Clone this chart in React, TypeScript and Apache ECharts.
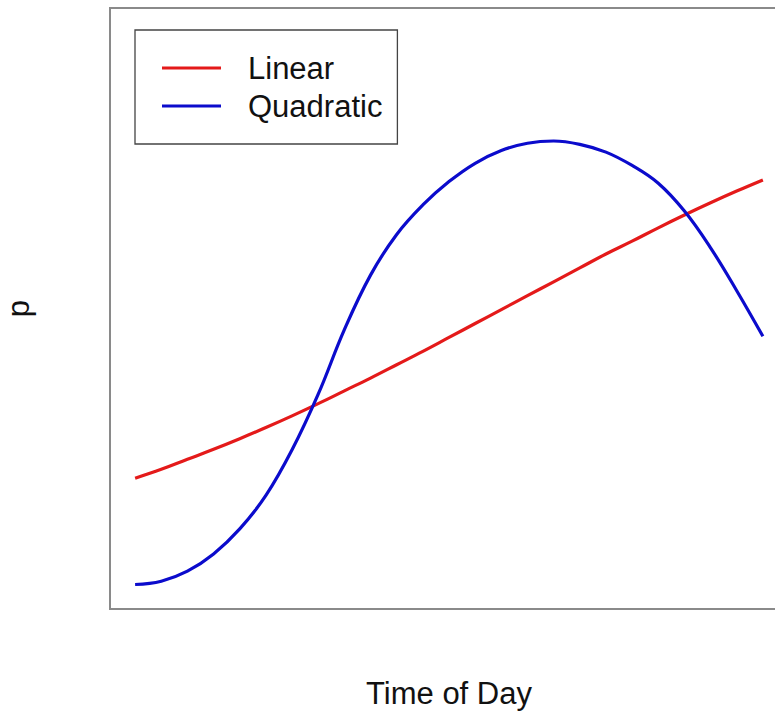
import React, { useEffect, useRef } from "react";
import * as echarts from "echarts";

const hours: number[] = [0, 1, 2, 3, 4, 5, 6, 7, 8, 9, 10, 11, 12, 13, 14, 15, 16, 17, 18, 19, 20, 21, 22, 23, 24];

const linearP: number[] = [
  0.195, 0.211, 0.229, 0.247, 0.266, 0.286, 0.307, 0.329, 0.352, 0.375,
  0.399, 0.423, 0.448, 0.473, 0.498, 0.523, 0.548, 0.573, 0.598, 0.621,
  0.645, 0.668, 0.690, 0.711, 0.731,
];

const quadraticP: number[] = [
  0.004, 0.010, 0.028, 0.059, 0.104, 0.164, 0.246, 0.346, 0.462, 0.560,
  0.633, 0.686, 0.728, 0.761, 0.784, 0.797, 0.801, 0.795, 0.781, 0.757,
  0.725, 0.675, 0.609, 0.532, 0.450,
];

const seriesNames: string[] = ["Linear", "Quadratic"];
const xTitle = "Time of Day";
const yTitle = "p";

export default function App() {
  const ref = useRef<HTMLDivElement>(null);
  useEffect(() => {
    if (!ref.current) return;
    const chart = echarts.init(ref.current, null, { renderer: "svg" });
    const font = "Liberation Sans, Arial, Helvetica, sans-serif";
    chart.setOption({
      animation: false,
      backgroundColor: "#ffffff",
      textStyle: { fontFamily: font },
      grid: {
        show: true,
        left: 110,
        top: 8,
        width: 678,
        height: 601,
        borderColor: "#8a8a8a",
        borderWidth: 2,
        backgroundColor: "transparent",
        outerBoundsMode: "none",
        containLabel: false,
      },
      legend: {
        orient: "vertical",
        left: 135,
        top: 30,
        padding: [21, 15, 21, 27],
        itemGap: 4,
        itemWidth: 59,
        itemHeight: 3,
        icon: "rect",
        borderColor: "#444",
        borderWidth: 1.3,
        backgroundColor: "#fff",
        textStyle: {
          fontFamily: font,
          fontSize: 31,
          color: "#111",
          lineHeight: 34,
          padding: [0, 0, 0, 22],
        },
        data: seriesNames,
      },
      xAxis: {
        type: "value",
        min: -0.96,
        max: 24.96,
        name: xTitle,
        nameLocation: "middle",
        nameGap: 69,
        nameTextStyle: { fontFamily: font, fontSize: 31, color: "#111" },
        axisLine: { show: false },
        axisTick: { show: false },
        axisLabel: { show: false },
        splitLine: { show: false },
      },
      yAxis: {
        type: "value",
        min: -0.04,
        max: 1.04,
        name: yTitle,
        nameLocation: "middle",
        nameGap: 76,
        nameTextStyle: { fontFamily: font, fontSize: 31, color: "#111" },
        axisLine: { show: false },
        axisTick: { show: false },
        axisLabel: { show: false },
        splitLine: { show: false },
      },
      series: [
        {
          name: seriesNames[0],
          type: "line",
          data: hours.map((h, i) => [h, linearP[i]]),
          smooth: 0.4,
          showSymbol: false,
          lineStyle: { color: "#e41a1a", width: 3.2 },
          itemStyle: { color: "#e41a1a" },
        },
        {
          name: seriesNames[1],
          type: "line",
          data: hours.map((h, i) => [h, quadraticP[i]]),
          smooth: 0.4,
          showSymbol: false,
          lineStyle: { color: "#0b0bcc", width: 3.2 },
          itemStyle: { color: "#0b0bcc" },
        },
      ],
    });
    return () => chart.dispose();
  }, []);
  return (
    <div
      ref={ref}
      style={{ position: "absolute", left: 0, top: 0, width: 775, height: 711 }}
    />
  );
}
